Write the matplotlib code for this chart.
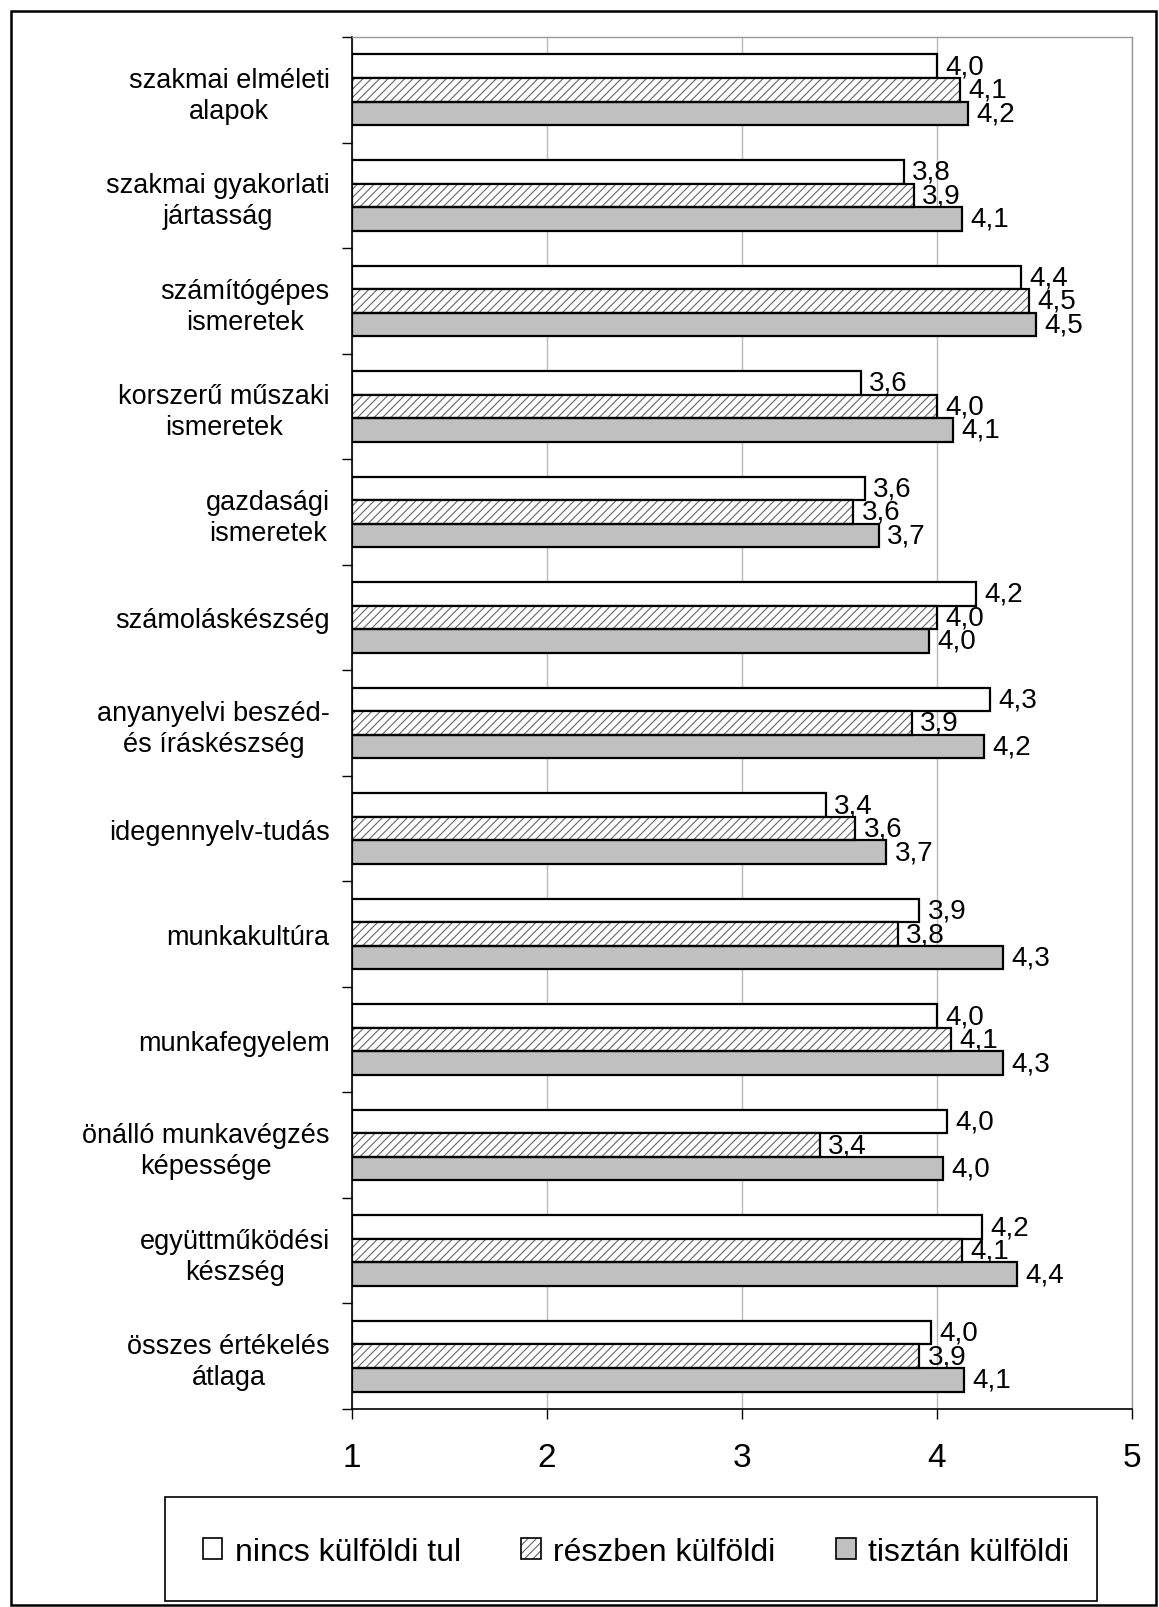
import matplotlib
matplotlib.use('Agg')
import numpy as np
import matplotlib.pyplot as plt
from matplotlib.patches import Patch, Rectangle
from matplotlib.ticker import FixedLocator

plt.rcParams.update({'font.family': ['Liberation Sans', 'DejaVu Sans']})
plt.rcParams.update({'hatch.linewidth': 0.8})

categories = [
    'szakmai elméleti\nalapok',
    'szakmai gyakorlati\njártasság',
    'számítógépes\nismeretek',
    'korszerű műszaki\nismeretek',
    'gazdasági\nismeretek',
    'számoláskészség',
    'anyanyelvi beszéd-\nés íráskészség',
    'idegennyelv-tudás',
    'munkakultúra',
    'munkafegyelem',
    'önálló munkavégzés\nképessége',
    'együttműködési\nkészség',
    'összes értékelés\nátlaga',
]
series_names = ['nincs külföldi tul', 'részben külföldi', 'tisztán külföldi']

nincs = [4.00, 3.83, 4.43, 3.61, 3.63, 4.20, 4.27, 3.43, 3.91, 4.00, 4.05, 4.23, 3.97]
reszben = [4.12, 3.88, 4.47, 4.00, 3.57, 4.00, 3.87, 3.58, 3.80, 4.07, 3.40, 4.13, 3.91]
tisztan = [4.16, 4.13, 4.51, 4.08, 3.70, 3.96, 4.24, 3.74, 4.34, 4.34, 4.03, 4.41, 4.14]

x_ticks = [1, 2, 3, 4, 5]

W, H = 1159, 1608
fig = plt.figure(figsize=(W / 100, H / 100), dpi=100)
ax = fig.add_axes([352 / W, 1 - 1410 / H, (1132 - 352) / W, (1410 - 38) / H])

y = np.arange(len(categories))
h = 0.223
left = 1

ax.barh(y - h, np.array(nincs) - left, height=h, left=left,
        color='white', edgecolor='black', linewidth=1.6, zorder=3)
ax.barh(y, np.array(reszben) - left, height=h, left=left,
        color='white', edgecolor='#666666', linewidth=0, hatch='////', zorder=3)
ax.barh(y, np.array(reszben) - left, height=h, left=left,
        fill=False, edgecolor='black', linewidth=1.6, zorder=4)
ax.barh(y + h, np.array(tisztan) - left, height=h, left=left,
        color='#C0C0C0', edgecolor='black', linewidth=1.6, zorder=3)

for offset, vals in zip([-h, 0, h], [nincs, reszben, tisztan]):
    for yi, v in zip(y, vals):
        ax.annotate(f'{v:.1f}'.replace('.', ','), xy=(v, yi + offset),
                    xytext=(6, 0), textcoords='offset points',
                    va='center', ha='left', fontsize=20, zorder=5)

ax.set_xlim(1, 5)
ax.set_ylim(len(categories) - 0.5, -0.5)
ax.set_xticks(x_ticks)
ax.set_xticklabels([str(t) for t in x_ticks], fontsize=24)
ax.tick_params(axis='x', direction='out', length=7, width=1, pad=17)

ax.set_yticks(y)
ax.set_yticklabels(categories, fontsize=19.5, linespacing=1.25)
for lab in ax.get_yticklabels():
    lab.set_multialignment('center')
ax.tick_params(axis='y', which='major', length=0, pad=16)
ax.yaxis.set_minor_locator(FixedLocator(np.arange(-0.5, len(categories), 1)))
ax.tick_params(axis='y', which='minor', length=7, width=1, direction='out')

ax.xaxis.grid(True, color='#BBBBBB', linewidth=1)
ax.set_axisbelow(True)
for s in ['top', 'right']:
    ax.spines[s].set_color('#999999')
    ax.spines[s].set_linewidth(1)
for s in ['left', 'bottom']:
    ax.spines[s].set_color('black')
    ax.spines[s].set_linewidth(1.2)

# legend box and entries
fig.patches.append(Rectangle((165 / W, 1 - 1602 / H), (1097 - 165) / W, (1602 - 1498) / H,
                             transform=fig.transFigure, fill=False,
                             edgecolor='black', linewidth=1.2))
h_white = Patch(facecolor='white', edgecolor='black', linewidth=1.2)
h_hatch = (Patch(facecolor='white', edgecolor='#666666', linewidth=0, hatch='////'),
           Patch(fill=False, edgecolor='black', linewidth=1.2))
h_gray = Patch(facecolor='#C0C0C0', edgecolor='black', linewidth=1.2)
fig.legend([h_white, h_hatch, h_gray], series_names, loc='center',
           bbox_to_anchor=(636 / W, 1 - 1553 / H), ncol=3, frameon=False,
           fontsize=23, handlelength=0.62, handleheight=0.62,
           handletextpad=0.38, columnspacing=1.9)

# outer border
fig.patches.append(Rectangle((11 / W, 2 / H), (1156 - 11) / W, (1596 - 2) / H,
                             transform=fig.transFigure, fill=False,
                             edgecolor='black', linewidth=1.8))

fig.savefig('out.png', dpi=100)
